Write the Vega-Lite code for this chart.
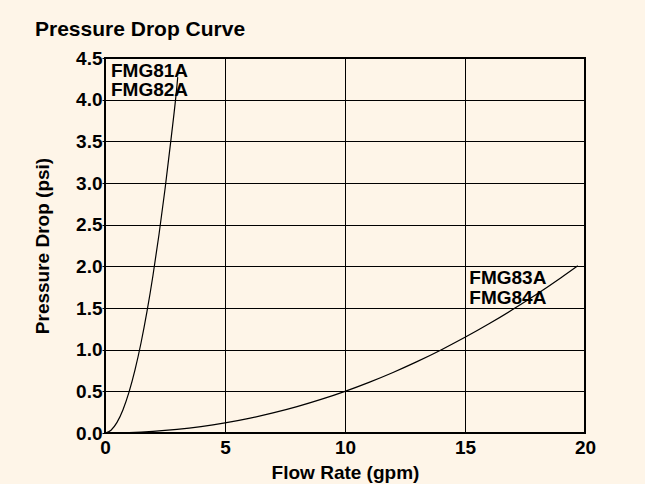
{
  "$schema": "https://vega.github.io/schema/vega-lite/v6.json",
  "autosize": {"type": "none"},
  "padding": {"left": 105, "top": 58, "right": 60, "bottom": 51},
  "width": 480,
  "height": 375,
  "background": "#FEF5E8",
  "title": {
    "text": "Pressure Drop Curve",
    "anchor": "start",
    "frame": "group",
    "dx": -70,
    "dy": 30,
    "offset": 22,
    "baseline": "alphabetic",
    "font": "Liberation Sans",
    "fontSize": 21,
    "fontWeight": "bold",
    "color": "#000000"
  },
  "config": {
    "view": {"stroke": "#000000", "strokeWidth": 2, "fill": "#FEF5E8"},
    "axis": {
      "labelFont": "Liberation Sans",
      "labelFontSize": 19,
      "labelFontWeight": "bold",
      "labelColor": "#000000",
      "titleFont": "Liberation Sans",
      "titleFontSize": 19,
      "titleFontWeight": "bold",
      "titleColor": "#000000",
      "gridColor": "#000000",
      "gridOpacity": 1,
      "gridWidth": 1,
      "domain": false,
      "tickColor": "#000000"
    },
    "text": {"font": "Liberation Sans"}
  },
  "layer": [
    {
      "data": {
        "values": [
          {"series": "FMG81A/82A", "flow": 0, "drop": 0},
          {"series": "FMG81A/82A", "flow": 0.25, "drop": 0.033},
          {"series": "FMG81A/82A", "flow": 0.5, "drop": 0.127},
          {"series": "FMG81A/82A", "flow": 0.75, "drop": 0.28},
          {"series": "FMG81A/82A", "flow": 1.0, "drop": 0.49},
          {"series": "FMG81A/82A", "flow": 1.25, "drop": 0.757},
          {"series": "FMG81A/82A", "flow": 1.5, "drop": 1.08},
          {"series": "FMG81A/82A", "flow": 1.75, "drop": 1.459},
          {"series": "FMG81A/82A", "flow": 2.0, "drop": 1.893},
          {"series": "FMG81A/82A", "flow": 2.25, "drop": 2.382},
          {"series": "FMG81A/82A", "flow": 2.5, "drop": 2.925},
          {"series": "FMG81A/82A", "flow": 2.75, "drop": 3.523},
          {"series": "FMG81A/82A", "flow": 3.0, "drop": 4.174},
          {"series": "FMG81A/82A", "flow": 3.03, "drop": 4.27},
          {"series": "FMG83A/84A", "flow": 0, "drop": 0},
          {"series": "FMG83A/84A", "flow": 1, "drop": 0.0045},
          {"series": "FMG83A/84A", "flow": 2, "drop": 0.0184},
          {"series": "FMG83A/84A", "flow": 3, "drop": 0.0424},
          {"series": "FMG83A/84A", "flow": 4, "drop": 0.0764},
          {"series": "FMG83A/84A", "flow": 5, "drop": 0.1208},
          {"series": "FMG83A/84A", "flow": 6, "drop": 0.1755},
          {"series": "FMG83A/84A", "flow": 7, "drop": 0.2407},
          {"series": "FMG83A/84A", "flow": 8, "drop": 0.3164},
          {"series": "FMG83A/84A", "flow": 9, "drop": 0.4029},
          {"series": "FMG83A/84A", "flow": 10, "drop": 0.5},
          {"series": "FMG83A/84A", "flow": 11, "drop": 0.6079},
          {"series": "FMG83A/84A", "flow": 12, "drop": 0.7266},
          {"series": "FMG83A/84A", "flow": 13, "drop": 0.8562},
          {"series": "FMG83A/84A", "flow": 14, "drop": 0.9967},
          {"series": "FMG83A/84A", "flow": 15, "drop": 1.148},
          {"series": "FMG83A/84A", "flow": 16, "drop": 1.3104},
          {"series": "FMG83A/84A", "flow": 17, "drop": 1.4839},
          {"series": "FMG83A/84A", "flow": 18, "drop": 1.6683},
          {"series": "FMG83A/84A", "flow": 19, "drop": 1.8638},
          {"series": "FMG83A/84A", "flow": 19.7, "drop": 2.007}
        ]
      },
      "mark": {"type": "line", "color": "#000000", "strokeWidth": 1.2, "interpolate": "monotone"},
      "encoding": {
        "x": {
          "field": "flow",
          "type": "quantitative",
          "title": "Flow Rate (gpm)",
          "scale": {"domain": [0, 20], "nice": false},
          "axis": {"values": [0, 5, 10, 15, 20], "ticks": false, "labelPadding": 5, "titlePadding": 6, "labelFlush": false}
        },
        "y": {
          "field": "drop",
          "type": "quantitative",
          "title": "Pressure Drop (psi)",
          "scale": {"domain": [0, 4.5], "nice": false},
          "axis": {"values": [0, 0.5, 1, 1.5, 2, 2.5, 3, 3.5, 4, 4.5], "format": ".1f", "tickSize": 3, "labelPadding": 0, "titlePadding": 23, "labelFlush": false}
        },
        "detail": {"field": "series"}
      }
    },
    {
      "data": {
        "values": [
          {"label": "FMG81A", "flow": 0.25, "drop": 4.27},
          {"label": "FMG82A", "flow": 0.25, "drop": 4.04},
          {"label": "FMG83A", "flow": 15.18, "drop": 1.79},
          {"label": "FMG84A", "flow": 15.18, "drop": 1.553}
        ]
      },
      "mark": {"type": "text", "align": "left", "baseline": "alphabetic", "fontSize": 19, "fontWeight": "bold", "color": "#000000"},
      "encoding": {
        "x": {"field": "flow", "type": "quantitative"},
        "y": {"field": "drop", "type": "quantitative"},
        "text": {"field": "label"}
      }
    }
  ]
}
